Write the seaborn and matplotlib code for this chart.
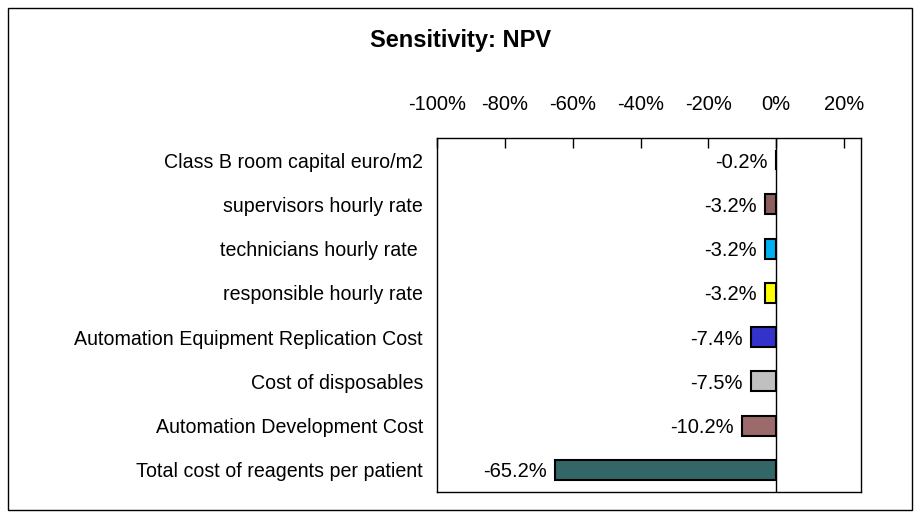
import matplotlib
matplotlib.use("Agg")
import matplotlib.pyplot as plt
import seaborn as sns
import pandas as pd
from matplotlib.patches import Rectangle
from matplotlib.ticker import PercentFormatter

# Data
PARAMS = [
    "Class B room capital euro/m2",
    "supervisors hourly rate",
    "technicians hourly rate ",
    "responsible hourly rate",
    "Automation Equipment Replication Cost",
    "Cost of disposables",
    "Automation Development Cost",
    "Total cost of reagents per patient",
]
NPV_CHANGE = [-0.002, -0.032, -0.032, -0.032, -0.074, -0.075, -0.102, -0.652]
LABELS = ["-0.2%", "-3.2%", "-3.2%", "-3.2%", "-7.4%", "-7.5%", "-10.2%", "-65.2%"]
COLORS = ["#9C6A6A", "#8E5E5E", "#00B0F0", "#FFFF00", "#3333CC",
          "#C0C0C0", "#9C6A6A", "#336666"]

sns.set_style("white")
plt.rcParams['font.family'] = ['Liberation Sans', 'DejaVu Sans']
plt.rcParams['axes.unicode_minus'] = False
plt.rcParams['text.color'] = 'black'
plt.rcParams['xtick.color'] = 'black'
plt.rcParams['ytick.color'] = 'black'

df = pd.DataFrame({"param": PARAMS, "value": NPV_CHANGE})

fig = plt.figure(figsize=(9.21, 5.19), dpi=100)
ax = fig.add_axes([437 / 921, 1 - 492 / 519, (861 - 437) / 921, (492 - 138) / 519])

sns.barplot(data=df, y="param", x="value", hue="param", palette=COLORS,
            legend=False, orient="h", width=0.45, edgecolor="black",
            linewidth=1.5, saturation=1, ax=ax)

ax.set_xlim(-1.0, 0.25)
ax.set_xticks([-1.0, -0.8, -0.6, -0.4, -0.2, 0.0, 0.2])
ax.xaxis.set_major_formatter(PercentFormatter(1.0, decimals=0))
ax.xaxis.tick_top()
ax.tick_params(axis="x", direction="in", length=7, width=1, colors="black",
               labelsize=14.5, pad=17, top=True, bottom=False)
ax.tick_params(axis="y", length=0, labelsize=14.1, pad=10, colors="black")
ax.set_xlabel("")
ax.set_ylabel("")
ax.axvline(0, color="black", lw=1)
for s in ax.spines.values():
    s.set_color("black")
    s.set_linewidth(1)

for i, (v, lab) in enumerate(zip(NPV_CHANGE, LABELS)):
    ax.annotate(lab, xy=(v, i), xytext=(-6, 0), textcoords="offset points",
                ha="right", va="center_baseline", fontsize=14.5)

fig.text(0.5, 1 - 40 / 519, "Sensitivity: NPV", ha="center", va="center",
         fontsize=17, fontweight="bold")

fig.patches.append(Rectangle((8 / 921, 1 - 510 / 519), 904 / 921, 502 / 519,
                             transform=fig.transFigure, fill=False,
                             edgecolor="black", linewidth=1))

fig.savefig("out.png", dpi=100)
